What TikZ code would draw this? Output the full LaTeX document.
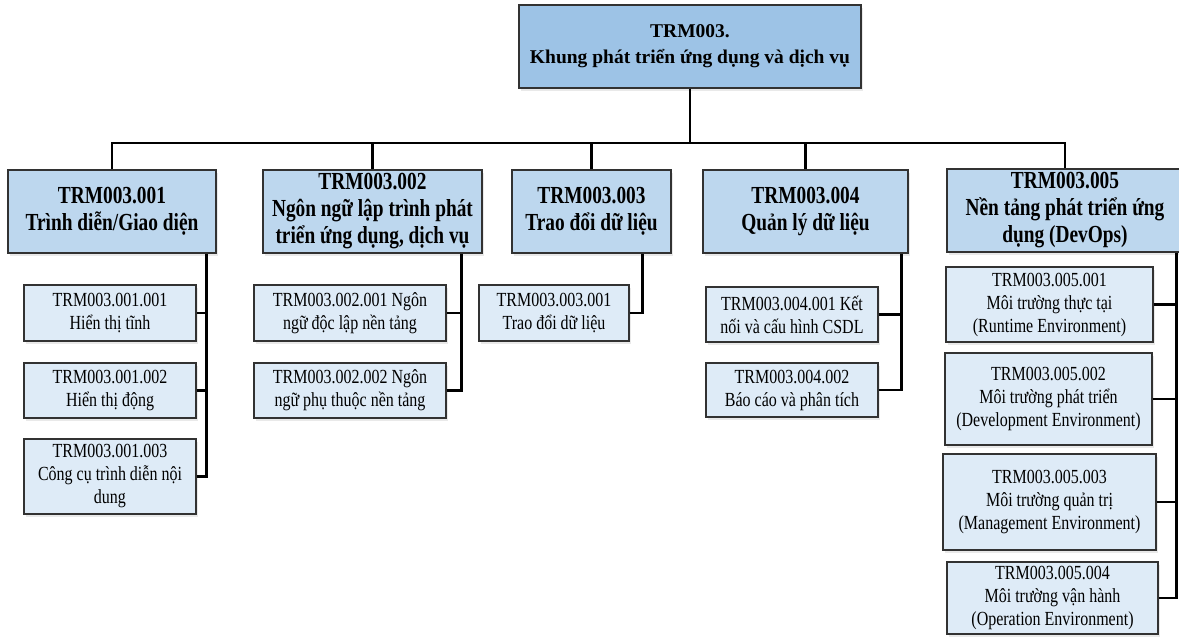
\documentclass[tikz,border=0pt]{standalone}
\usepackage{fontspec}
\setmainfont{Liberation Serif}
\newfontfamily\condone[FakeStretch=0.79]{Liberation Serif}
\newfontfamily\condtwo[FakeStretch=0.80]{Liberation Serif}
\usetikzlibrary{shadows}
\definecolor{rootfill}{RGB}{157,195,230}
\definecolor{lonefill}{RGB}{189,215,238}
\definecolor{ltwofill}{RGB}{222,235,247}
\definecolor{boxline}{RGB}{50,50,50}
\tikzset{
  boxbase/.style={draw=boxline, line width=1.4pt, align=center, inner sep=0pt,
    drop shadow={shadow xshift=1.5pt, shadow yshift=-2.5pt, fill=black!25, opacity=0.35}},
  rootbox/.style={boxbase, fill=rootfill, font=\fontsize{19.5}{26}\selectfont\bfseries},
  lonebox/.style={boxbase, fill=lonefill, font=\condone\fontsize{24.5}{27}\selectfont\bfseries},
  ltwobox/.style={boxbase, fill=ltwofill, font=\condtwo\fontsize{20}{23}\selectfont},
  conn/.style={draw=black, line width=2.6pt}
}
\begin{document}
\begin{tikzpicture}[x=1pt,y=-1pt]
\useasboundingbox (0,0) rectangle (1179,643);
% root
\node[rootbox, minimum width=342pt, minimum height=83pt] (root) at (690,46.5)
  {TRM003.\\Khung phát triển ứng dụng và dịch vụ};
% level 1
\node[lonebox, minimum width=208pt, minimum height=83pt] (a) at (112,211.5)
  {TRM003.001\\Trình diễn/Giao diện};
\node[lonebox, minimum width=219pt, minimum height=83pt] (b) at (372.5,211.5)
  {TRM003.002\\Ngôn ngữ lập trình phát\\triển ứng dụng, dịch vụ};
\node[lonebox, minimum width=159pt, minimum height=83pt] (c) at (591.5,211.5)
  {TRM003.003\\Trao đổi dữ liệu};
\node[lonebox, minimum width=205pt, minimum height=83pt] (d) at (805.5,211.5)
  {TRM003.004\\Quản lý dữ liệu};
\node[lonebox, minimum width=236pt, minimum height=83pt] (e) at (1065,210.5)
  {TRM003.005\\Nền tảng phát triển ứng\\dụng (DevOps)};
% level 2
\node[ltwobox, minimum width=172pt, minimum height=56pt] (a1) at (110,313)
  {TRM003.001.001\\Hiển thị tĩnh};
\node[ltwobox, minimum width=172pt, minimum height=55pt] (a2) at (110,390.5)
  {TRM003.001.002\\Hiển thị động};
\node[ltwobox, minimum width=172pt, minimum height=75pt] (a3) at (110,476.5)
  {TRM003.001.003\\Công cụ trình diễn nội\\dung};
\node[ltwobox, minimum width=192pt, minimum height=56pt] (b1) at (350,313)
  {TRM003.002.001 Ngôn\\ngữ độc lập nền tảng};
\node[ltwobox, minimum width=192pt, minimum height=55pt] (b2) at (350,390.5)
  {TRM003.002.002 Ngôn\\ngữ phụ thuộc nền tảng};
\node[ltwobox, minimum width=150pt, minimum height=56pt] (c1) at (554,313)
  {TRM003.003.001\\Trao đổi dữ liệu};
\node[ltwobox, minimum width=172pt, minimum height=55pt] (d1) at (792,314.5)
  {TRM003.004.001 Kết\\nối và cấu hình CSDL};
\node[ltwobox, minimum width=172pt, minimum height=54pt] (d2) at (792,390)
  {TRM003.004.002\\Báo cáo và phân tích};
\node[ltwobox, minimum width=207pt, minimum height=75pt] (e1) at (1049.5,304.5)
  {TRM003.005.001\\Môi trường thực tại\\(Runtime Environment)};
\node[ltwobox, minimum width=207pt, minimum height=92pt] (e2) at (1048.5,399)
  {TRM003.005.002\\Môi trường phát triển\\(Development Environment)};
\node[ltwobox, minimum width=213pt, minimum height=96pt] (e3) at (1049.5,502)
  {TRM003.005.003\\Môi trường quản trị\\(Management Environment)};
\node[ltwobox, minimum width=211pt, minimum height=72pt] (e4) at (1052.5,598)
  {TRM003.005.004\\Môi trường vận hành\\(Operation Environment)};
% connectors: root to level 1
\coordinate (bus) at (690,143);
\draw[conn] (root.south) -- (bus);
\foreach \n in {a,b,c,d,e} \draw[conn] (\n.north) |- (bus);
% level 1 to level 2
\foreach \n in {a1,a2,a3} \draw[conn] (\n.east) -| ([xshift=-10pt]a.south east);
\foreach \n in {b1,b2} \draw[conn] (\n.east) -| ([xshift=-21pt]b.south east);
\draw[conn] (c1.east) -| ([xshift=-29pt]c.south east);
\foreach \n in {d1,d2} \draw[conn] (\n.east) -| ([xshift=-7pt]d.south east);
\foreach \n in {e1,e2,e3,e4} \draw[conn] (\n.east) -| ([xshift=-7pt]e.south east);
\end{tikzpicture}
\end{document}
